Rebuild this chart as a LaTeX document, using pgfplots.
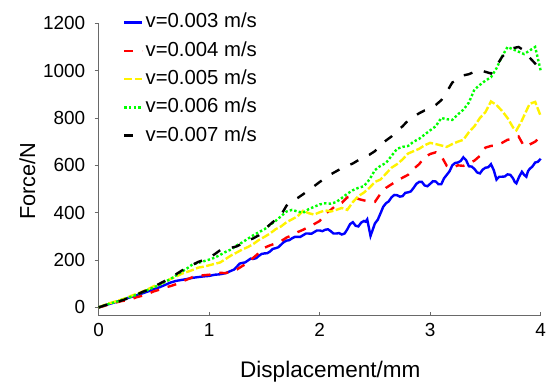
\documentclass[border=0pt]{standalone}
\usepackage{pgfplots}
\pgfplotsset{compat=1.18}
\usepackage{fontspec}
\setmainfont{Liberation Sans}
\definecolor{axgray}{RGB}{105,105,105}
\begin{document}
\begin{tikzpicture}
\useasboundingbox (-98.7bp,-67.3bp) rectangle (450.3bp,315.7bp);
\begin{axis}[
  scale only axis,
  width=442bp, height=292.4bp,
  xmin=0, xmax=4, ymin=-35, ymax=1200,
  axis x line=bottom, axis y line=left,
  axis line style={-, axgray, line width=1.2bp},
  xtick={0,1,2,3,4}, ytick={0,200,400,600,800,1000,1200},
  x tick style={axgray, line width=1bp},
  y tick style={axgray, line width=1bp},
  xtick align=inside, ytick align=outside,
  major tick length=4bp,
  /pgf/number format/assume math mode=true,
  /pgf/number format/1000 sep={},
  ticklabel style={font=\fontsize{19}{22}\selectfont},
  xticklabel style={yshift=-4bp},
  yticklabel style={xshift=-6bp},
  xlabel={Displacement/mm}, ylabel={Force/N},
  xlabel style={font=\fontsize{22.6}{25}\selectfont, at={(axis description cs:0.524,-0.21)}, anchor=base},
  ylabel style={font=\fontsize{21.8}{25}\selectfont, at={(axis description cs:-0.144,0.46)}, anchor=base},
  legend style={at={(axis description cs:0.055,1.036)}, anchor=north west, draw=none, fill=none,
    font=\fontsize{20.4}{22}\selectfont, row sep=9.3bp, inner sep=0pt,
    nodes={inner sep=0pt, text height=15bp, text depth=4bp}},
  legend cell align=left,
  legend image code/.code={\draw[#1] (0bp,0bp) -- (18bp,0bp); \path (20bp,0bp);},
  every axis plot/.append style={line width=2.4bp},
  clip=false,
]
\addplot[blue, solid] coordinates {
(0.00,0)(0.05,8)(0.10,15)(0.15,22)(0.20,30)(0.25,38)(0.30,45)(0.35,52)(0.40,60)(0.45,68)
(0.50,78)(0.55,85)(0.60,95)(0.65,105)(0.70,112)(0.75,116)(0.80,120)(0.85,125)(0.90,128)(0.95,131)
(1.00,133)(1.05,138)(1.10,140)(1.15,145)(1.20,155)(1.225,160)(1.25,172)(1.275,185)(1.30,188)(1.325,190)
(1.35,198)(1.375,206)(1.40,205)(1.425,208)(1.45,218)(1.475,226)(1.50,228)(1.525,229)(1.55,236)(1.575,247)
(1.60,250)(1.625,254)(1.65,265)(1.675,276)(1.70,282)(1.725,284)(1.75,292)(1.775,298)(1.80,298)(1.825,298)
(1.85,305)(1.875,312)(1.90,312)(1.925,311)(1.95,318)(1.975,325)(2.00,325)(2.025,322)(2.05,328)(2.075,330)
(2.10,322)(2.125,312)(2.15,312)(2.175,314)(2.20,308)(2.225,312)(2.25,330)(2.275,352)(2.30,360)(2.325,345)
(2.35,342)(2.375,358)(2.40,365)(2.415,362)(2.43,372)(2.46,302)(2.50,355)(2.525,370)(2.55,397)(2.575,425)
(2.60,440)(2.625,448)(2.65,465)(2.675,475)(2.70,474)(2.725,468)(2.75,470)(2.775,484)(2.80,486)(2.825,490)
(2.85,505)(2.875,522)(2.90,530)(2.925,530)(2.95,515)(2.975,512)(3.00,522)(3.025,533)(3.05,532)(3.075,520)
(3.10,520)(3.125,545)(3.15,560)(3.175,575)(3.20,600)(3.225,610)(3.25,612)(3.275,618)(3.30,634)(3.325,622)
(3.35,596)(3.375,595)(3.40,585)(3.425,570)(3.45,566)(3.475,582)(3.50,590)(3.525,592)(3.55,605)(3.575,580)
(3.60,540)(3.625,552)(3.65,552)(3.675,553)(3.70,562)(3.725,560)(3.75,545)(3.765,530)(3.78,524)(3.805,552)
(3.83,573)(3.85,560)(3.87,552)(3.885,575)(3.90,585)(3.925,595)(3.95,612)(3.975,615)(4.00,628)};
\addlegendentry{v=0.003 m/s}
\addplot[red, dash pattern=on 9bp off 9bp] coordinates {
(0.00,0)(0.05,6)(0.10,14)(0.15,20)(0.20,26)(0.25,30)(0.30,36)(0.35,44)(0.40,50)(0.45,58)
(0.50,68)(0.55,75)(0.60,84)(0.65,90)(0.70,98)(0.75,108)(0.80,118)(0.85,128)(0.90,132)(0.95,136)
(1.00,138)(1.05,142)(1.10,146)(1.15,145)(1.20,152)(1.25,160)(1.30,175)(1.35,188)(1.40,210)(1.45,230)
(1.50,252)(1.55,262)(1.60,270)(1.65,280)(1.70,295)(1.75,305)(1.80,318)(1.85,328)(1.90,340)(1.95,352)
(2.00,365)(2.05,395)(2.10,412)(2.15,432)(2.20,442)(2.25,465)(2.30,470)(2.35,458)(2.40,452)(2.45,448)
(2.50,446)(2.55,480)(2.60,505)(2.65,520)(2.70,535)(2.75,548)(2.80,560)(2.85,585)(2.90,605)(2.95,635)
(3.00,648)(3.05,655)(3.10,640)(3.15,598)(3.20,590)(3.25,600)(3.30,598)(3.35,608)(3.40,620)(3.45,640)
(3.50,675)(3.55,682)(3.60,684)(3.65,695)(3.70,708)(3.75,712)(3.80,722)(3.85,680)(3.90,688)(3.95,700)
(4.00,722)};
\addlegendentry{v=0.004 m/s}
\addplot[yellow, dash pattern=on 8bp off 2.5bp] coordinates {
(0.00,0)(0.05,10)(0.10,18)(0.15,25)(0.20,32)(0.25,40)(0.30,50)(0.35,58)(0.40,68)(0.45,78)
(0.50,90)(0.55,98)(0.60,108)(0.65,120)(0.70,130)(0.75,142)(0.80,150)(0.85,158)(0.90,168)(0.95,172)
(1.00,178)(1.05,184)(1.10,190)(1.15,205)(1.20,220)(1.25,232)(1.30,245)(1.35,255)(1.40,268)(1.45,285)
(1.50,298)(1.55,312)(1.60,330)(1.65,342)(1.70,360)(1.75,372)(1.80,385)(1.85,408)(1.90,398)(1.95,392)
(2.00,402)(2.05,410)(2.10,405)(2.15,412)(2.20,420)(2.25,412)(2.30,445)(2.35,470)(2.40,485)(2.45,505)
(2.50,530)(2.55,540)(2.60,565)(2.65,590)(2.70,605)(2.75,625)(2.80,650)(2.85,660)(2.90,670)(2.95,685)
(3.00,695)(3.05,690)(3.10,684)(3.15,678)(3.20,690)(3.25,700)(3.30,708)(3.35,740)(3.40,765)(3.45,800)
(3.50,825)(3.55,870)(3.60,855)(3.65,830)(3.70,800)(3.75,760)(3.78,748)(3.82,780)(3.86,820)(3.90,860)
(3.95,868)(4.00,808)};
\addlegendentry{v=0.005 m/s}
\addplot[green, dash pattern=on 2.4bp off 2.2bp] coordinates {
(0.00,0)(0.05,8)(0.10,16)(0.15,22)(0.20,30)(0.25,38)(0.30,46)(0.35,55)(0.40,65)(0.45,75)
(0.50,85)(0.55,95)(0.60,108)(0.65,120)(0.70,135)(0.75,150)(0.80,165)(0.85,182)(0.90,188)(0.95,195)
(1.00,202)(1.05,210)(1.10,222)(1.15,235)(1.20,245)(1.25,262)(1.30,275)(1.35,290)(1.40,305)(1.45,318)
(1.50,330)(1.55,348)(1.60,365)(1.65,385)(1.70,405)(1.75,412)(1.80,405)(1.85,400)(1.90,415)(1.95,425)
(2.00,435)(2.05,440)(2.10,438)(2.15,445)(2.20,462)(2.25,480)(2.30,495)(2.35,505)(2.40,512)(2.45,540)
(2.50,580)(2.55,598)(2.60,610)(2.65,640)(2.70,670)(2.75,678)(2.80,682)(2.85,700)(2.90,712)(2.95,730)
(3.00,748)(3.05,765)(3.10,800)(3.15,795)(3.20,792)(3.25,815)(3.30,835)(3.35,865)(3.40,920)(3.45,940)
(3.50,958)(3.55,972)(3.60,1010)(3.65,1060)(3.70,1100)(3.75,1090)(3.80,1080)(3.85,1070)(3.90,1085)(3.95,1100)
(4.00,1000)};
\addlegendentry{v=0.006 m/s}
\addplot[black, dash pattern=on 9bp off 12bp] coordinates {
(0.00,0)(0.05,8)(0.10,15)(0.15,20)(0.20,28)(0.25,36)(0.30,45)(0.35,55)(0.40,66)(0.45,75)
(0.50,88)(0.55,100)(0.60,112)(0.65,125)(0.70,140)(0.75,155)(0.80,168)(0.85,180)(0.90,192)(0.95,200)
(1.00,210)(1.05,225)(1.10,242)(1.15,248)(1.20,252)(1.25,258)(1.30,270)(1.35,282)(1.40,292)(1.45,305)
(1.50,330)(1.55,350)(1.60,370)(1.65,390)(1.70,430)(1.75,450)(1.80,462)(1.85,478)(1.90,495)(1.95,512)
(2.00,530)(2.05,545)(2.10,562)(2.15,575)(2.20,588)(2.25,598)(2.30,608)(2.35,622)(2.40,635)(2.45,645)
(2.50,660)(2.55,685)(2.60,705)(2.65,722)(2.70,745)(2.75,765)(2.80,790)(2.85,805)(2.90,820)(2.95,832)
(3.00,840)(3.05,855)(3.10,875)(3.15,910)(3.20,950)(3.25,962)(3.30,980)(3.35,985)(3.40,995)(3.45,1002)
(3.50,995)(3.55,988)(3.60,1020)(3.65,1058)(3.70,1080)(3.75,1095)(3.80,1100)(3.85,1085)(3.90,1055)(3.95,1030)
(4.00,1000)};
\addlegendentry{v=0.007 m/s}
\end{axis}
\end{tikzpicture}
\end{document}
